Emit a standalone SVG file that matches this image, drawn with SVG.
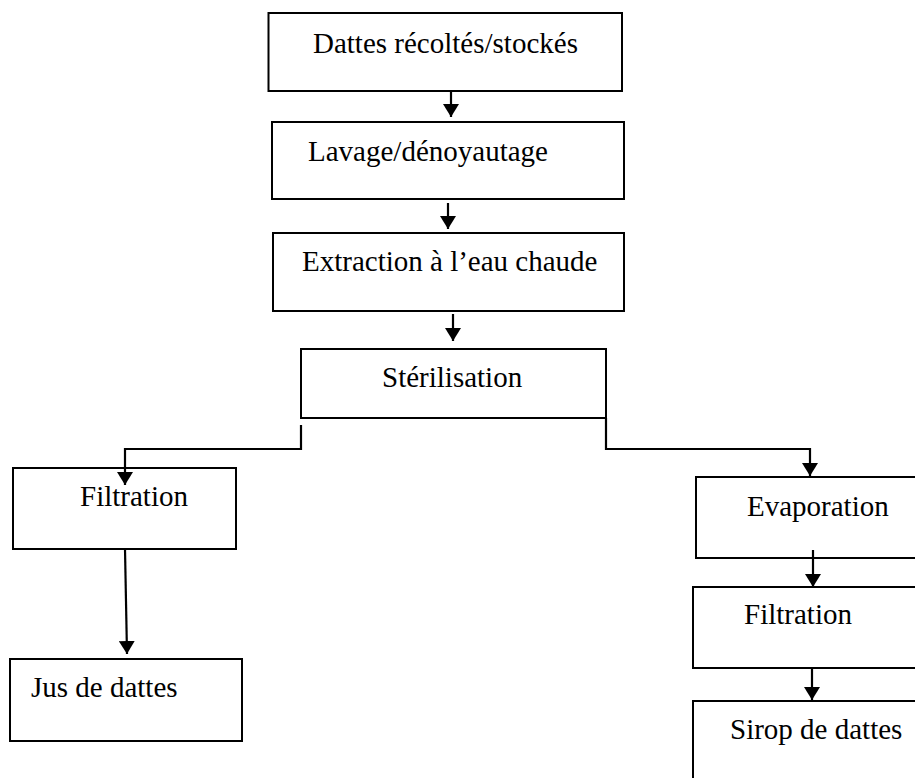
<svg xmlns="http://www.w3.org/2000/svg" width="915" height="778" viewBox="0 0 915 778">
<style>
.box{fill:#fff;stroke:#000;stroke-width:2}
.lbl{font-family:"Liberation Serif","Times New Roman",serif;font-size:29px;fill:#000}
.con{fill:none;stroke:#000;stroke-width:2.2}
</style>
<defs>
<marker id="ah" markerUnits="userSpaceOnUse" markerWidth="13" markerHeight="16" refX="13" refY="8" orient="auto">
<path d="M0,0 L13,8 L0,16 Z" fill="#000"/>
</marker>
</defs>
<rect width="915" height="778" fill="#fff"/>
<g id="n1"><rect class="box" x="268.5" y="13" width="353.5" height="78"/><text class="lbl" x="313" y="53">Dattes récoltés/stockés</text></g>
<g id="n2"><rect class="box" x="272" y="122" width="352" height="77"/><text class="lbl" x="308" y="161">Lavage/dénoyautage</text></g>
<g id="n3"><rect class="box" x="273" y="233" width="351" height="78"/><text class="lbl" x="302" y="271">Extraction à l’eau chaude</text></g>
<g id="n4"><rect class="box" x="301" y="349" width="305" height="69"/><text class="lbl" x="382" y="387">Stérilisation</text></g>
<g id="n5"><rect class="box" x="13" y="468" width="223" height="81"/><text class="lbl" x="80" y="506">Filtration</text></g>
<g id="n6"><rect class="box" x="10" y="659" width="232" height="82"/><text class="lbl" x="31" y="697">Jus de dattes</text></g>
<g id="n7"><rect class="box" x="696" y="477" width="230" height="81"/><text class="lbl" x="747" y="516">Evaporation</text></g>
<g id="n8"><rect class="box" x="693" y="587" width="233" height="81"/><text class="lbl" x="744" y="624">Filtration</text></g>
<g id="n9"><rect class="box" x="693" y="701" width="233" height="90"/><text class="lbl" x="730" y="739">Sirop de dattes</text></g>
<g id="connectors">
<path class="con" d="M451,91 V117" marker-end="url(#ah)"/>
<path class="con" d="M448,203 V229" marker-end="url(#ah)"/>
<path class="con" d="M453,314 V341" marker-end="url(#ah)"/>
<path class="con" d="M301,425 V449 H125 V485" marker-end="url(#ah)"/>
<path class="con" d="M606,418 V449 H810 V476" marker-end="url(#ah)"/>
<path class="con" d="M125,549 L127,654" marker-end="url(#ah)"/>
<path class="con" d="M813,550 V587" marker-end="url(#ah)"/>
<path class="con" d="M812,668 V700" marker-end="url(#ah)"/>
</g>
</svg>
